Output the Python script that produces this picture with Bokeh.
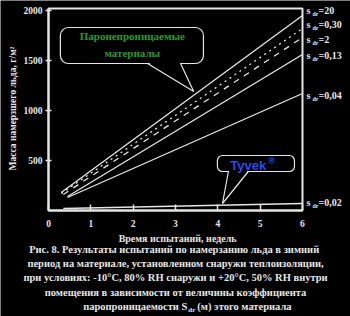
import numpy as np
from bokeh.plotting import figure
from bokeh.models import Label, FixedTicker, Range1d
from bokeh.embed import file_html
from bokeh.resources import INLINE

# ---- data ----
sd_labels = ["20", "0,30", "2", "0,13", "0,04", "0,02"]
t_start = [0.30, 0.30, 0.35, 0.45, 0.45, 0.35]
t_end = [6.0, 6.0, 6.0, 6.0, 6.0, 6.0]
ice_start = [180, 170, 160, 140, 130, 20]
ice_end = [1950, 1820, 1730, 1560, 1170, 70]
dash_styles = ["solid", "dotted", "dashed", "solid", "solid", "solid"]
label_dy = [5, 4, -2, -1, -2, 1]
x_ticks = [0, 1, 2, 3, 4, 5, 6]
y_ticks = [500, 1000, 1500, 2000]

y_title = "Масса намерзшего льда, г/м²"
x_title = "Время испытаний, недель"
caption = [
    "Рис. 8.  Результаты испытаний по намерзанию льда в зимний",
    "период на материале, установленном снаружи теплоизоляции,",
    "при условиях: -10°С, 80% RH снаружи и +20°С, 50% RH внутри",
    "помещения в зависимости от величины коэффициента",
]
caption_last = ["паропроницаемости S", "dr", "(м) этого материала"]

FG = "#e6e6e6"
BG = "#000000"
SERIF = "Liberation Serif"
PX = 42.333  # px per week
X0 = 48      # px of x = 0

# frame = whole canvas; axes drawn at fixed locations
p = figure(width=350, height=316, output_backend="svg", toolbar_location=None,
           x_range=Range1d(-X0 / PX, 6 + (350 - X0 - 6 * PX) / PX),
           y_range=Range1d(-1060, 2100), min_border=0)
p.background_fill_color = BG
p.border_fill_color = BG
p.grid.visible = False
p.outline_line_color = None

for ax in (p.xaxis[0], p.yaxis[0]):
    ax.fixed_location = 0
    ax.axis_line_color = FG
    ax.axis_line_width = 2
    ax.major_tick_line_color = FG
    ax.major_tick_line_width = 1.5
    ax.minor_tick_line_color = None
    ax.major_label_text_color = FG
    ax.major_label_text_font = SERIF
    ax.major_label_text_font_style = "bold"
    ax.major_label_text_font_size = "9.5px"
p.xaxis.ticker = FixedTicker(ticks=x_ticks)
p.xaxis.bounds = (0, 6)
p.xaxis.major_tick_in = 6
p.xaxis.major_tick_out = 0
p.xaxis.major_label_standoff = 9
p.yaxis.ticker = FixedTicker(ticks=y_ticks)
p.yaxis.bounds = (0, 2020)
p.yaxis.major_tick_in = 3
p.yaxis.major_tick_out = 3
p.yaxis.major_label_standoff = 3

# frame top/right edges
p.quad(left=0, right=6, bottom=0, top=2020, fill_color=None, line_color=FG, line_width=2)


def lab(x, y, text, size="10px", color=FG, font=SERIF, align="center", **kw):
    p.add_layout(Label(x=x, y=y, text=text, text_font=font, text_font_size=size,
                       text_font_style="bold", text_color=color, text_align=align,
                       text_baseline="middle", **kw))


# data lines + right-hand labels
for i in range(len(sd_labels)):
    p.line([t_start[i], t_end[i]], [ice_start[i], ice_end[i]], line_color=FG,
           line_width=1.3, line_dash=dash_styles[i])
    lab(t_end[i], ice_end[i], "s", size="10px", align="left", x_offset=4, y_offset=label_dy[i])
    lab(t_end[i], ice_end[i], "dr", size="6px", align="left", x_offset=10, y_offset=label_dy[i] - 3)
    lab(t_end[i], ice_end[i], "=" + sd_labels[i], size="10px", align="left",
        x_offset=16, y_offset=label_dy[i])

# green callout
p.quad(left=0.28, right=3.66, bottom=1470, top=1830, fill_color=BG, line_color=FG,
       line_width=1.2, border_radius=8)
p.patch([2.36, 3.10, 3.43], [1480, 1480, 1190], fill_color=BG, line_color=None)
p.line([2.34, 3.43, 3.12], [1470, 1190, 1470], line_color=FG, line_width=1.2)
lab(1.98, 1750, "Паронепроницаемые", size="11px", color="#26992e")
lab(1.98, 1580, "материалы", size="11px", color="#26992e")

# Tyvek callout
p.quad(left=3.99, right=5.81, bottom=390, top=550, fill_color=BG, line_color=FG,
       line_width=1.2, border_radius=5)
p.patch([4.27, 4.70, 4.11], [398, 398, 70], fill_color=BG, line_color=None)
p.line([4.25, 4.11, 4.72], [390, 70, 390], line_color=FG, line_width=1.2)
lab(4.72, 455, "Tyvek", size="13px", color="#2c4cec", font="Liberation Sans")
lab(5.27, 500, "®", size="9px", color="#2c4cec", font="Liberation Sans")

# axis titles
lab(-0.85, 1020, y_title, size="9.5px", angle=np.pi / 2)
lab(3.05, -280, x_title, size="10px")

# caption
for txt, yy in zip(caption, [-390, -530, -670, -820]):
    lab(3.0, yy, txt, size="10.5px")
lab(3.28, -960, caption_last[0], size="10.5px", align="right")
lab(3.28, -960, caption_last[1], size="7px", align="left", x_offset=1, y_offset=-3)
lab(3.28, -960, caption_last[2], size="10.5px", align="left", x_offset=10)

open("out.html", "w").write(file_html(p, INLINE))
